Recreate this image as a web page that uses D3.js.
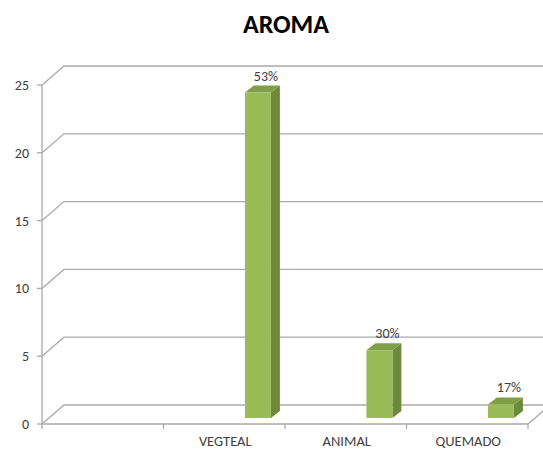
<!DOCTYPE html>
<html>
<head>
    <script src="https://d3js.org/d3.v7.min.js"></script>
    <style>
        body { margin: 0; background: white; font-family: Carlito, Lato, "Open Sans", sans-serif; }
        svg { display: block; }
        .grid { fill: none; stroke: #aaaaaa; stroke-width: 1.3px; }
        .ylab, .xlab, .vlab { fill: #404040; }
    </style>
</head>
<body>
    <svg width="543" height="452"></svg>
    <script>
        // chart data
        const categories = ["", "VEGTEAL", "ANIMAL", "QUEMADO"];
        const values = [null, 24, 5, 1];
        const pctLabels = ["", "53%", "30%", "17%"];
        const yTicks = [0, 5, 10, 15, 20, 25];

        const svg = d3.select("svg");
        const depth = {dx: 22, dy: -19};     // back wall offset
        const barDepth = {dx: 9, dy: -7};    // bar side offset

        let y = d3.scaleLinear().domain([0, 25]).range([424, 85]);
        let x = d3.scaleBand().domain(categories).range([42, 528]);

        // title
        svg.append("text")
            .attr("x", 286).attr("y", 33)
            .attr("text-anchor", "middle")
            .style("font-size", "26px").style("font-weight", "bold")
            .style("fill", "#000")
            .text("AROMA");

        // gridlines: diagonal from front axis to back wall, then across
        svg.selectAll(".grid")
            .data(yTicks)
            .enter().append("path")
            .attr("class", "grid")
            .attr("d", d => `M42,${y(d)} L${42 + depth.dx},${y(d) + depth.dy} L543,${y(d) + depth.dy}`);

        // floor front edge + right diagonal
        svg.append("path")
            .attr("class", "grid")
            .attr("d", `M42,${y(0)} L528,${y(0)} L${528 + depth.dx},${y(0) + depth.dy}`);

        // y axis line
        svg.append("line").attr("class", "grid")
            .attr("x1", 42).attr("x2", 42).attr("y1", y(25)).attr("y2", y(0));

        // y ticks + labels
        svg.selectAll(".ytick")
            .data(yTicks)
            .enter().append("line")
            .attr("class", "grid")
            .attr("x1", 37).attr("x2", 42)
            .attr("y1", d => y(d)).attr("y2", d => y(d));

        svg.selectAll(".ylab")
            .data(yTicks)
            .enter().append("text")
            .attr("class", "ylab")
            .attr("x", 29).attr("y", d => y(d) + 5)
            .attr("text-anchor", "end")
            .style("font-size", "14px")
            .text(d => d);

        // category ticks
        let tickXs = categories.map(c => x(c)).concat([x.range()[1]]);
        svg.selectAll(".xtick")
            .data(tickXs)
            .enter().append("line")
            .attr("class", "grid")
            .attr("x1", d => d).attr("x2", d => d)
            .attr("y1", y(0)).attr("y2", y(0) + 5);

        svg.selectAll(".xlab")
            .data(categories)
            .enter().append("text")
            .attr("class", "xlab")
            .attr("x", d => x(d) + x.bandwidth() / 2 + 1)
            .attr("y", 446)
            .attr("text-anchor", "middle")
            .style("font-size", "14.5px")
            .text(d => d);

        // 3D bars
        const bw = 26;
        const lift = -6;
        let bars = categories.map((c, i) => ({c: c, v: values[i], p: pctLabels[i]}))
            .filter(d => d.v != null);

        let g = svg.selectAll(".bar")
            .data(bars)
            .enter().append("g");

        g.each(function(d) {
            let sel = d3.select(this);
            let x0 = x(d.c) + x.bandwidth() * 0.67;
            let x1 = x0 + bw;
            let yt = y(d.v) + lift;
            let yb = y(0) + lift;
            // side
            sel.append("path")
                .attr("d", `M${x1},${yt} L${x1 + barDepth.dx},${yt + barDepth.dy} L${x1 + barDepth.dx},${yb + barDepth.dy} L${x1},${yb} Z`)
                .attr("fill", "#6d8a38");
            // top
            sel.append("path")
                .attr("d", `M${x0},${yt} L${x0 + barDepth.dx},${yt + barDepth.dy} L${x1 + barDepth.dx},${yt + barDepth.dy} L${x1},${yt} Z`)
                .attr("fill", "#7f9e47");
            // front
            sel.append("rect")
                .attr("x", x0).attr("y", yt)
                .attr("width", bw).attr("height", yb - yt)
                .attr("fill", "#9bbb59");
            sel.append("text")
                .attr("class", "vlab")
                .attr("x", x0 + bw / 2 + 8)
                .attr("y", yt - 12)
                .attr("text-anchor", "middle")
                .style("font-size", "14px")
                .text(d.p);
        });
    </script>
</body>
</html>
